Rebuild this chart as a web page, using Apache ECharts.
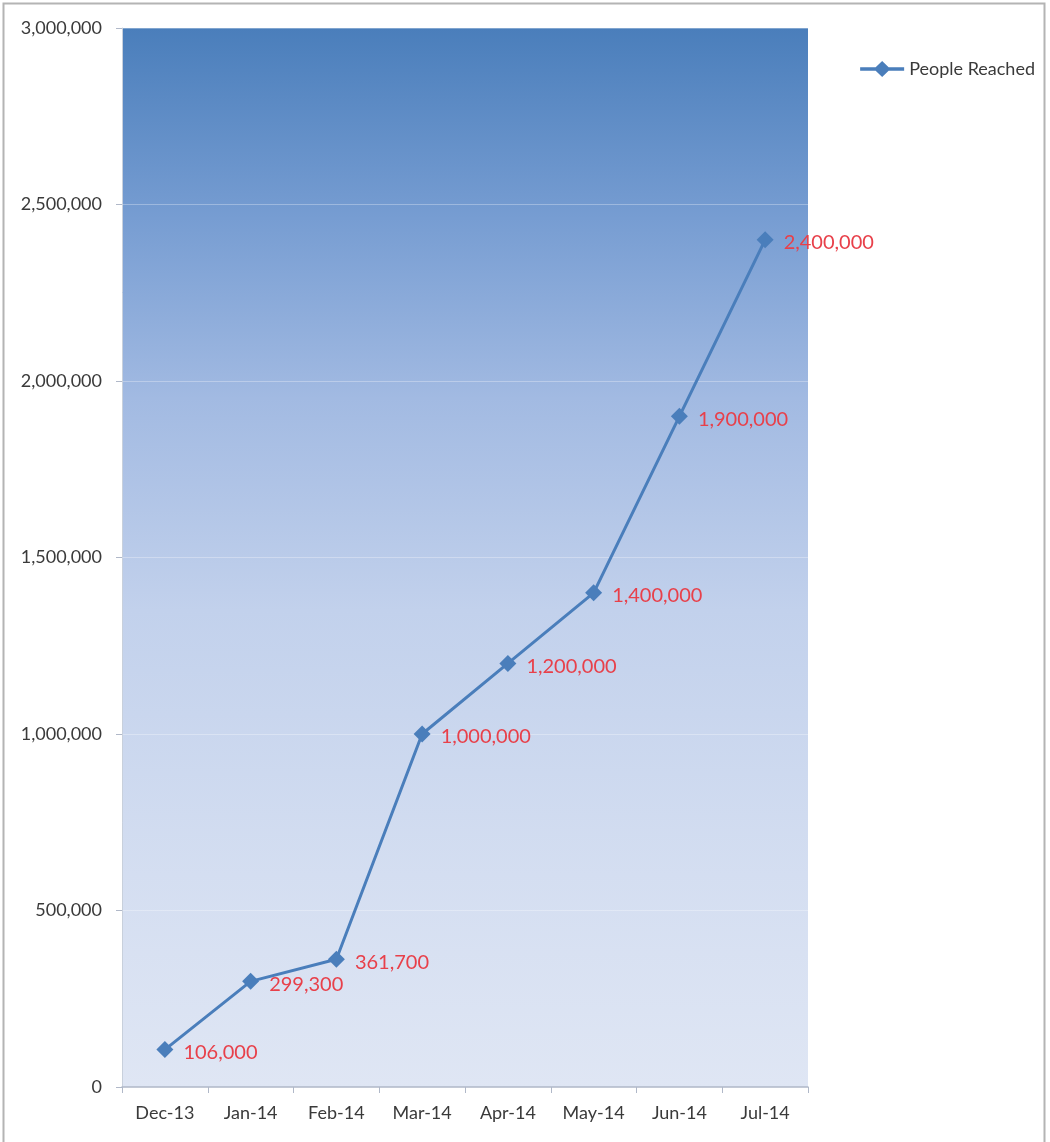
<!DOCTYPE html>
<html><head><meta charset="utf-8">
<script src="https://cdn.jsdelivr.net/npm/echarts@6/dist/echarts.min.js"></script>
<style>html,body{margin:0;padding:0;background:#fff}#c{width:1050px;height:1142px}</style>
</head><body><div id="c"></div>
<script>
const categories = ['Dec-13','Jan-14','Feb-14','Mar-14','Apr-14','May-14','Jun-14','Jul-14'];
const peopleReached = [106000, 299300, 361700, 1000000, 1200000, 1400000, 1900000, 2400000];
const seriesName = 'People Reached';
const yMin = 0, yMax = 3000000, yInterval = 500000;

const chart = echarts.init(document.getElementById('c'));
const font = 'Lato, "Liberation Sans", sans-serif';
chart.setOption({
  animation: false,
  textStyle: {fontFamily: font},
  graphic: [{
    type: 'rect', shape: {x: 3.5, y: 3.5, width: 1041, height: 1150},
    style: {fill: null, stroke: '#b4b4b4', lineWidth: 2}, silent: true
  }],
  legend: {
    right: 10, top: 55, itemWidth: 44, itemHeight: 16, itemGap: 4,
    data: [{name: seriesName, icon: 'path://M0,6.3 L15.5,6.3 L22,0 L28.5,6.3 L44,6.3 L44,9.7 L28.5,9.7 L22,16 L15.5,9.7 L0,9.7 Z'}],
    textStyle: {fontSize: 18, color: '#3a3a3a', fontFamily: font}
  },
  grid: {
    left: 122, right: 242, top: 28, bottom: 55,
    show: true, borderWidth: 0,
    backgroundColor: {
      type: 'linear', x: 0, y: 0, x2: 0, y2: 1,
      colorStops: [
        {offset: 0, color: '#4a7ebb'},
        {offset: 0.18, color: '#779dd2'},
        {offset: 0.35, color: '#a2bae2'},
        {offset: 0.55, color: '#c2d1ec'},
        {offset: 0.8, color: '#d4def1'},
        {offset: 1, color: '#dfe6f4'}
      ]
    }
  },
  xAxis: {
    type: 'category', data: categories, boundaryGap: true,
    axisLine: {show: true, lineStyle: {color: '#b0b8c8', width: 1.5}},
    axisTick: {show: true, length: 6, lineStyle: {color: '#b0b8c8'}},
    axisLabel: {fontSize: 18, color: '#3a3a3a', margin: 17, fontFamily: font},
    splitLine: {show: false}
  },
  yAxis: {
    type: 'value', min: yMin, max: yMax, interval: yInterval,
    axisLine: {show: true, lineStyle: {color: '#c8d0dc', width: 1}},
    axisTick: {show: true, length: 6, lineStyle: {color: '#b0b8c8'}},
    axisLabel: {fontSize: 18, color: '#3a3a3a', margin: 20, fontFamily: font,
      formatter: v => v.toLocaleString('en-US')},
    splitLine: {show: true, lineStyle: {color: 'rgba(255,255,255,0.3)', width: 1}}
  },
  series: [{
    name: seriesName, type: 'line', data: peopleReached,
    symbol: 'diamond', symbolSize: 17,
    lineStyle: {color: '#4a7ebb', width: 3},
    itemStyle: {color: '#4a7ebb'},
    label: {
      show: true, position: 'right', distance: 10, offset: [0, 3],
      color: '#e8404a', fontSize: 20, fontFamily: font,
      formatter: p => p.value.toLocaleString('en-US')
    }
  }]
});
</script></body></html>
